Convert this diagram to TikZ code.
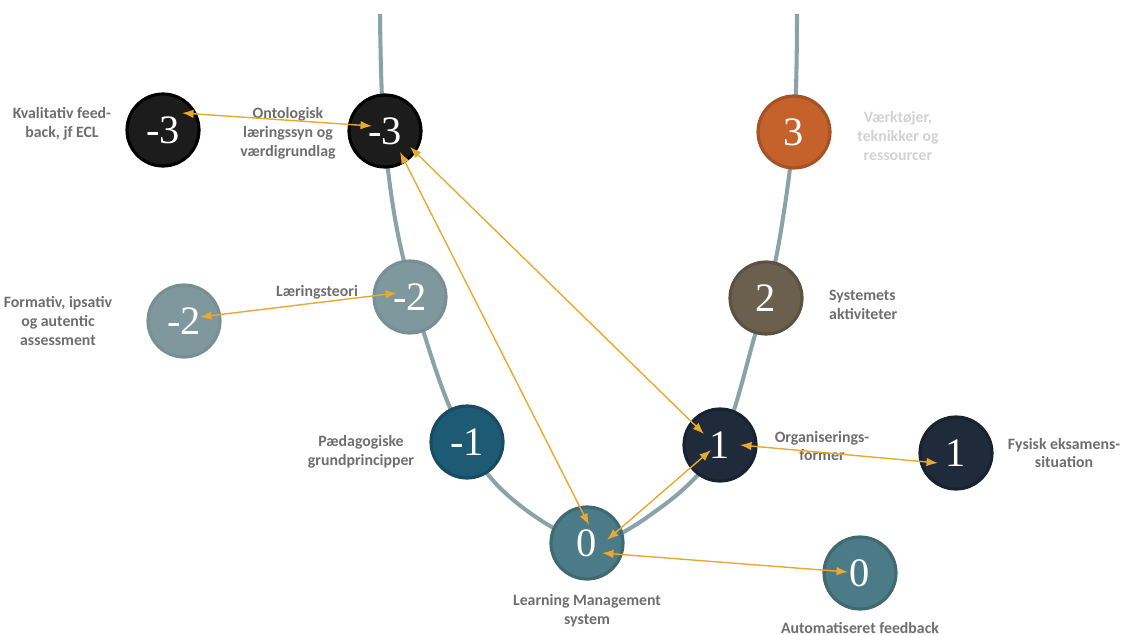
\documentclass[tikz,border=0pt]{standalone}
\usepackage{fontspec}
\setmainfont{Carlito}
\newfontfamily\numfont{Liberation Serif}
\usepackage{xcolor}
\usetikzlibrary{arrows.meta}

\definecolor{curvecol}{HTML}{8AA3A8}
\definecolor{linkcol}{HTML}{E8AA2E}
\definecolor{lblgray}{HTML}{6E6E6E}
\definecolor{lbllight}{HTML}{D2D2D2}
\definecolor{blackfill}{HTML}{1C1C1C}
\definecolor{orangefill}{HTML}{C5612B}
\definecolor{grayfill}{HTML}{7E989D}
\definecolor{brownfill}{HTML}{6B604E}
\definecolor{tealfill}{HTML}{1D5A73}
\definecolor{navyfill}{HTML}{1F2B3B}
\definecolor{zerofill}{HTML}{4B7B86}

\begin{document}
\begin{tikzpicture}[x=0.02cm,y=-0.02cm,
  stage/.style={circle, minimum size=1.44cm, inner sep=0pt, line width=1.8pt,
    text=white, font=\numfont\fontsize{23}{23}\selectfont},
  lbl/.style={align=center, text=lblgray, font=\bfseries\fontsize{9}{10.8}\selectfont},
  link/.style={{Latex[length=2.3mm,width=1.7mm]}-{Latex[length=2.3mm,width=1.7mm]},
    draw=linkcol, line width=0.8pt}
]
\useasboundingbox (0,0) rectangle (1136,635);

\draw[curvecol, line width=2.3pt] plot[smooth, tension=0.55] coordinates {
  (380,14) (384,131) (402,253) (448,403) (500,488) (587,541)
  (660,508) (720,445) (755,335) (777,253) (794,131) (797,14)};

\node[stage, fill=blackfill, draw=black] (kval) at (163,130) {-3};
\node[stage, fill=blackfill, draw=black] (onto) at (385,131) {-3};
\node[stage, fill=orangefill, draw=orangefill!85!black] (vaerk) at (794,132) {3};
\node[stage, fill=grayfill, draw=grayfill!95!black] (form) at (184,321) {-2};
\node[stage, fill=grayfill, draw=grayfill!95!black] (laer) at (410,297) {-2};
\node[stage, fill=brownfill, draw=brownfill!85!black] (syst) at (766,298) {2};
\node[stage, fill=tealfill, draw=tealfill!85!black] (paed) at (467,442) {-1};
\node[stage, fill=navyfill, draw=navyfill!80!black] (org) at (720,445) {1};
\node[stage, fill=navyfill, draw=navyfill!80!black] (fys) at (956,453) {1};
\node[stage, fill=zerofill, draw=zerofill!85!black] (lms) at (587,543) {0};
\node[stage, fill=zerofill, draw=zerofill!85!black] (auto) at (860,573) {0};

\node[lbl] (kvaltxt) at (62,124) {Kvalitativ feed-\\back, jf ECL};
\node[lbl] (ontotxt) at (288,133) {Ontologisk\\læringssyn og\\værdigrundlag};
\node[lbl, text=lbllight] (vaerktxt) at (898,136) {Værktøjer,\\teknikker og\\ressourcer};
\node[lbl] (formtxt) at (58,321) {Formativ, ipsativ\\og autentic\\assessment};
\node[lbl] (laertxt) at (317,292) {Læringsteori};
\node[lbl, align=left, anchor=west] (systtxt) at (823,305) {Systemets\\aktiviteter};
\node[lbl] (paedtxt) at (361,452) {Pædagogiske\\grundprincipper};
\node[lbl] (orgtxt) at (822,446) {Organiserings-\\former};
\node[lbl] (fystxt) at (1064,453) {Fysisk eksamens-\\situation};
\node[lbl] (lmstxt) at (587,611) {Learning Management\\system};
\node[lbl] (autotxt) at (860,628) {Automatiseret feedback};

\draw[link] ([shift={(19,-17)}]kval.center) -- ([shift={(-13,-5)}]onto.center);
\draw[link] ([shift={(-13,-4)}]laer.center) -- ([shift={(16,-4)}]form.center);
\draw[link] ([shift={(15,21)}]onto.center) -- ([shift={(2,-18)}]lms.center);
\draw[link] ([shift={(25,16)}]onto.center) -- ([shift={(-16,-11)}]org.center);
\draw[link] ([shift={(-9,5)}]org.center) -- ([shift={(20,-3)}]lms.center);
\draw[link] ([shift={(20,0)}]org.center) -- ([shift={(-18,10)}]fys.center);
\draw[link] ([shift={(15,10)}]lms.center) -- ([shift={(-12,-1)}]auto.center);
\end{tikzpicture}
\end{document}
